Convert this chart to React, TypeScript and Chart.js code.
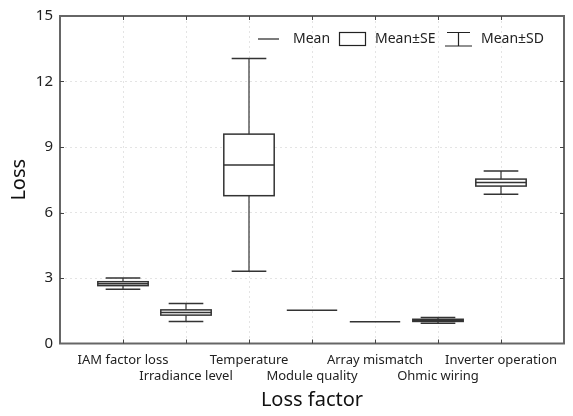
import React, { useEffect, useRef } from 'react';
import { Chart, registerables } from 'chart.js';

Chart.register(...registerables);

const categories = [
  'IAM factor loss',
  'Irradiance level',
  'Temperature',
  'Module quality',
  'Array mismatch',
  'Ohmic wiring',
  'Inverter operation',
];
const means = [2.74, 1.42, 8.18, 1.52, 1.0, 1.06, 7.37];
const standardErrors = [0.09, 0.12, 1.41, 0, 0, 0.05, 0.16];
const standardDeviations = [0.26, 0.41, 4.87, 0, 0, 0.135, 0.53];
const yTickValues = [0, 3, 6, 9, 12, 15];
const legendLabels = ['Mean', 'Mean±SE', 'Mean±SD'];

const FONT = "'Noto Sans', sans-serif";
const BOX_WIDTH = 0.8; // in category units
const CAP_WIDTH = 0.55;
const LINE = '#333';
const FRAME = '#666';

const boxPlugin = {
  id: 'boxPlot',
  afterDatasetsDraw(chart: any) {
    const { ctx, chartArea: a } = chart;
    const x = chart.scales.x;
    const y = chart.scales.y;
    ctx.save();
    ctx.lineCap = 'butt';

    categories.forEach((_, i) => {
      const v = i + 1;
      const cx = x.getPixelForValue(v);
      const half = x.getPixelForValue(v + BOX_WIDTH / 2) - cx;
      const capHalf = x.getPixelForValue(v + CAP_WIDTH / 2) - cx;
      const m = means[i];
      const se = standardErrors[i];
      const sd = standardDeviations[i];
      ctx.strokeStyle = LINE;
      if (sd > 0) {
        const yt = y.getPixelForValue(m + sd);
        const yb = y.getPixelForValue(m - sd);
        ctx.lineWidth = 1.2;
        ctx.beginPath();
        ctx.moveTo(cx, yt);
        ctx.lineTo(cx, yb);
        ctx.stroke();
        ctx.lineWidth = 1.5;
        ctx.beginPath();
        ctx.moveTo(cx - capHalf, yt);
        ctx.lineTo(cx + capHalf, yt);
        ctx.moveTo(cx - capHalf, yb);
        ctx.lineTo(cx + capHalf, yb);
        ctx.stroke();
      }
      if (se > 0) {
        const yt = y.getPixelForValue(m + se);
        const yb = y.getPixelForValue(m - se);
        ctx.fillStyle = '#fff';
        ctx.fillRect(cx - half, yt, half * 2, yb - yt);
        ctx.lineWidth = 1.5;
        ctx.strokeRect(cx - half, yt, half * 2, yb - yt);
      }
      const ym = y.getPixelForValue(m);
      ctx.lineWidth = 1.5;
      ctx.beginPath();
      ctx.moveTo(cx - half, ym);
      ctx.lineTo(cx + half, ym);
      ctx.stroke();
    });

    // frame
    ctx.strokeStyle = FRAME;
    ctx.lineWidth = 2;
    ctx.strokeRect(a.left, a.top, a.right - a.left, a.bottom - a.top);

    // inner tick marks
    ctx.lineWidth = 1;
    ctx.strokeStyle = '#444';
    const tl = 4;
    ctx.beginPath();
    for (let v = 1; v <= categories.length; v++) {
      const px = Math.round(x.getPixelForValue(v)) + 0.5;
      ctx.moveTo(px, a.bottom);
      ctx.lineTo(px, a.bottom - tl);
      ctx.moveTo(px, a.top);
      ctx.lineTo(px, a.top + tl);
    }
    yTickValues.forEach((t) => {
      if (t === 0 || t === 15) return;
      const py = Math.round(y.getPixelForValue(t)) + 0.5;
      ctx.moveTo(a.left, py);
      ctx.lineTo(a.left + tl, py);
      ctx.moveTo(a.right, py);
      ctx.lineTo(a.right - tl, py);
    });
    ctx.stroke();

    // legend
    const ly = a.top + 23;
    ctx.font = `14px ${FONT}`;
    ctx.fillStyle = '#222';
    ctx.textBaseline = 'middle';
    ctx.textAlign = 'left';
    ctx.strokeStyle = '#222';
    ctx.lineWidth = 1.2;
    // Mean line
    ctx.beginPath();
    ctx.moveTo(258, ly);
    ctx.lineTo(279, ly);
    ctx.stroke();
    ctx.fillText(legendLabels[0], 293, ly);
    // SE box
    ctx.strokeRect(339.5, ly - 6.5, 26, 13);
    ctx.fillText(legendLabels[1], 375, ly);
    // SD whisker
    ctx.beginPath();
    ctx.moveTo(447, ly - 6.5);
    ctx.lineTo(470, ly - 6.5);
    ctx.moveTo(458.5, ly - 6.5);
    ctx.lineTo(458.5, ly + 7);
    ctx.moveTo(445, ly + 7);
    ctx.lineTo(472, ly + 7);
    ctx.stroke();
    ctx.fillText(legendLabels[2], 481, ly);

    ctx.restore();
  },
};

export default function App() {
  const canvasRef = useRef<HTMLCanvasElement | null>(null);

  useEffect(() => {
    const canvas = canvasRef.current;
    if (!canvas) return;
    const chart = new Chart(canvas, {
      type: 'scatter',
      data: {
        datasets: [
          {
            data: means.map((m, i) => ({ x: i + 1, y: m })),
            pointRadius: 0,
            showLine: false,
          },
        ],
      },
      options: {
        animation: false,
        responsive: true,
        maintainAspectRatio: false,
        layout: { padding: { top: 10, right: 8, left: 0, bottom: 0 } },
        plugins: {
          legend: { display: false },
          tooltip: { enabled: false },
        },
        scales: {
          x: {
            type: 'linear',
            min: 0,
            max: categories.length + 1,
            afterBuildTicks: (s: any) => {
              s.ticks = Array.from({ length: categories.length + 2 }, (_, i) => ({ value: i }));
            },
            afterFit: (s: any) => {
              s.height = 72.5;
            },
            ticks: {
              autoSkip: false,
              maxRotation: 0,
              minRotation: 0,
              padding: 9,
              color: '#222',
              font: { family: FONT, size: 13 },
              callback: (v: any) => {
                const i = Math.round(Number(v));
                if (i < 1 || i > categories.length) return '';
                return i % 2 === 0 ? ['', categories[i - 1]] : categories[i - 1];
              },
            },
            grid: { color: '#e4e4e4', lineWidth: 1, drawTicks: false },
            border: { display: false, dash: [2, 3] },
            title: {
              display: true,
              text: 'Loss factor',
              color: '#111',
              font: { family: FONT, size: 20 },
              padding: { top: 0, bottom: 4 },
            },
          },
          y: {
            type: 'linear',
            min: 0,
            max: 15,
            afterBuildTicks: (s: any) => {
              s.ticks = yTickValues.map((v) => ({ value: v }));
            },
            afterFit: (s: any) => {
              s.width = 60;
            },
            ticks: {
              padding: 7,
              color: '#222',
              font: { family: FONT, size: 15 },
            },
            grid: { color: '#e4e4e4', lineWidth: 1, drawTicks: false },
            border: { display: false, dash: [2, 3] },
            title: {
              display: true,
              text: 'Loss',
              color: '#111',
              font: { family: FONT, size: 20 },
              padding: { top: 7, bottom: 0 },
            },
          },
        },
      },
      plugins: [boxPlugin],
    } as any);
    return () => chart.destroy();
  }, []);

  return (
    <div style={{ position: 'absolute', left: 0, top: 0, width: 573, height: 416, background: '#fff' }}>
      <canvas ref={canvasRef} />
    </div>
  );
}
